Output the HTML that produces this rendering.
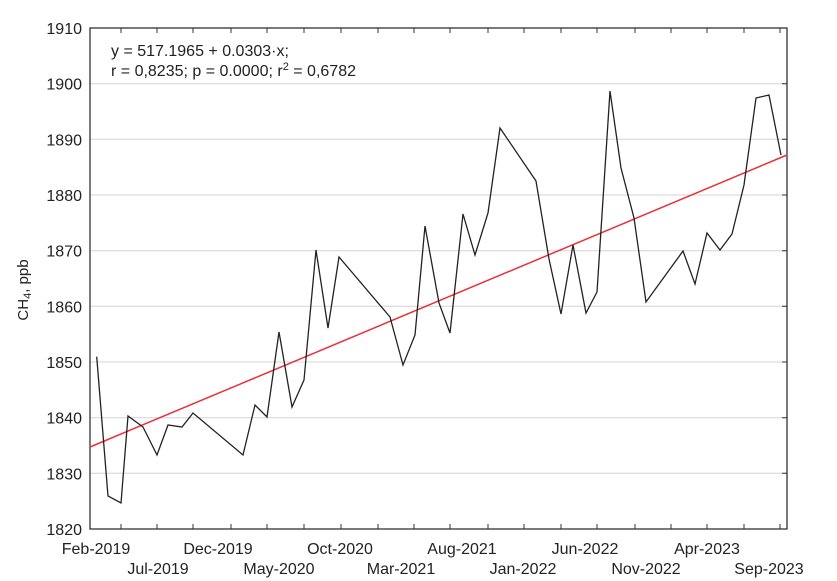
<!DOCTYPE html>
<html><head><meta charset="utf-8"><style>
html,body{margin:0;padding:0;background:#fff;}
svg{display:block;font-family:"Liberation Sans",Arial,sans-serif;}
</style></head><body>
<svg width="837" height="581" viewBox="0 0 837 581" xmlns="http://www.w3.org/2000/svg">
<rect width="837" height="581" fill="#fff"/>
<g stroke="#d4d4d4" stroke-width="1">
<line x1="90" y1="83.7" x2="787" y2="83.7"/>
<line x1="90" y1="139.3" x2="787" y2="139.3"/>
<line x1="90" y1="195" x2="787" y2="195"/>
<line x1="90" y1="250.7" x2="787" y2="250.7"/>
<line x1="90" y1="306.3" x2="787" y2="306.3"/>
<line x1="90" y1="362" x2="787" y2="362"/>
<line x1="90" y1="417.7" x2="787" y2="417.7"/>
<line x1="90" y1="473.3" x2="787" y2="473.3"/>
</g>
<g stroke="#333" stroke-width="1">
<path d="M121,529v-5M157,529v-5M193,529v-5M231,529v-5M267,529v-5M304,529v-5M341,529v-5M378,529v-5M414,529v-5M450,529v-5M488,529v-5M524,529v-5M561,529v-5M597,529v-5M635,529v-5M671,529v-5M707,529v-5M744,529v-5M780,529v-5"/>
<path d="M121,28v5M157,28v5M193,28v5M231,28v5M267,28v5M304,28v5M341,28v5M378,28v5M414,28v5M450,28v5M488,28v5M524,28v5M561,28v5M597,28v5M635,28v5M671,28v5M707,28v5M744,28v5M780,28v5"/>
<path d="M787,83.7h-5M787,139.3h-5M787,195h-5M787,250.7h-5M787,306.3h-5M787,362h-5M787,417.7h-5M787,473.3h-5"/>
</g>
<rect x="90" y="28" width="697" height="501" fill="none" stroke="#333" stroke-width="1.3"/>
<line x1="90" y1="447" x2="787" y2="155" stroke="#e8303a" stroke-width="1.5"/>
<polyline fill="none" stroke="#222" stroke-width="1.3" stroke-linejoin="miter" points="96.7,356.7 108,496 121,503 128,416 143,427 157,455 168,425 182,427 193,413 243,455 255,405 267,417 279,332 292,407 304,380 316,250 328,328 339,257 390,317 403,365 415,335 425,226 439,303 450,333 463,214 475,255 488,213 500,128 536,181 549,259 561,314 573,245 586,313 597,292 610,91 621,168 634,218 646,302 683,251 695,284 707,233 720,250 732,234 744,185 756,98 769,95 781,155"/>
<g font-size="16" fill="#222" text-anchor="end">
<text x="82" y="34">1910</text>
<text x="82" y="89.7">1900</text>
<text x="82" y="145.3">1890</text>
<text x="82" y="201">1880</text>
<text x="82" y="256.7">1870</text>
<text x="82" y="312.3">1860</text>
<text x="82" y="368">1850</text>
<text x="82" y="423.7">1840</text>
<text x="82" y="479.3">1830</text>
<text x="82" y="535">1820</text>
</g>
<g font-size="16" fill="#222" text-anchor="middle">
<text x="96" y="554">Feb-2019</text>
<text x="158" y="574">Jul-2019</text>
<text x="218" y="554">Dec-2019</text>
<text x="279" y="574">May-2020</text>
<text x="340" y="554">Oct-2020</text>
<text x="401" y="574">Mar-2021</text>
<text x="462" y="554">Aug-2021</text>
<text x="523" y="574">Jan-2022</text>
<text x="585" y="554">Jun-2022</text>
<text x="646" y="574">Nov-2022</text>
<text x="707" y="554">Apr-2023</text>
<text x="769" y="574">Sep-2023</text>
</g>
<text transform="translate(28,290) rotate(-90)" font-size="15" fill="#222" text-anchor="middle">CH<tspan font-size="11" dy="3">4</tspan><tspan dy="-3">, ppb</tspan></text>
<g font-size="16" fill="#222">
<text x="111" y="56">y = 517.1965 + 0.0303·x;</text>
<text x="111" y="76">r = 0,8235; p = 0.0000; r<tspan font-size="11" dy="-6">2</tspan><tspan dy="6"> = 0,6782</tspan></text>
</g>
</svg>
</body></html>
